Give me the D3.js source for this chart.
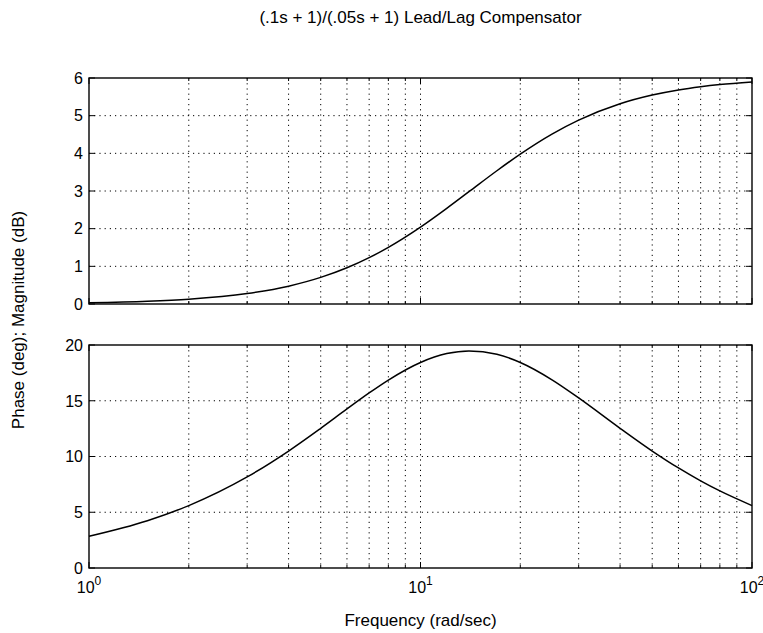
<!DOCTYPE html>
<html>
<head>
<meta charset="utf-8">
<script src="https://cdn.jsdelivr.net/npm/d3@7"></script>
<style>
  html, body { margin: 0; padding: 0; background: #fff; }
  svg { display: block; font-family: "Liberation Sans", Arial, Helvetica, sans-serif; }
</style>
</head>
<body>
<svg id="chart" width="763" height="633"></svg>
<script>
// ---- Data ----
const freq = [1, 1.5, 2, 3, 4, 5, 6, 7, 8, 10, 12, 14, 17, 20, 25, 30, 40, 50, 60, 70, 80, 100];
const magnitudeDb = [0.032, 0.072, 0.127, 0.278, 0.474, 0.706, 0.961, 1.230, 1.504, 2.041, 2.539, 2.981, 3.538, 3.979, 4.517, 4.881, 5.315, 5.546, 5.682, 5.767, 5.825, 5.894];
const phaseDeg = [2.849, 4.242, 5.599, 8.168, 10.491, 12.529, 14.265, 15.702, 16.859, 18.435, 19.230, 19.470, 19.169, 18.435, 16.859, 15.255, 12.529, 10.491, 8.973, 7.815, 6.911, 5.599];
const magTicks = [0, 1, 2, 3, 4, 5, 6];
const phaseTicks = [0, 5, 10, 15, 20];
const decadeTicks = [1, 10, 100];
const decadeExponents = ["0", "1", "2"];
const titleText = "(.1s + 1)/(.05s + 1) Lead/Lag Compensator";
const xLabelText = "Frequency (rad/sec)";
const yLabelText = "Phase (deg); Magnitude (dB)";

// ---- Layout ----
const svg = d3.select("#chart");
const left = 89, right = 752;
const fs = 16, labelFs = 17;
const panels = [
  { top: 78, bottom: 304, domain: [0, 6], ticks: magTicks, values: magnitudeDb, xLabels: false },
  { top: 345, bottom: 568, domain: [0, 20], ticks: phaseTicks, values: phaseDeg, xLabels: true }
];

const x = d3.scaleLog().domain([1, 100]).range([left, right]);
const minorTicks = [];
[1, 10].forEach(d => { for (let k = 2; k <= 9; k++) minorTicks.push(d * k); });
const gridX = minorTicks.concat([10]);

panels.forEach(p => {
  const y = d3.scaleLinear().domain(p.domain).range([p.bottom, p.top]);
  const g = svg.append("g");

  // Grid
  g.selectAll(".gx").data(gridX).enter().append("line")
    .attr("x1", d => x(d)).attr("x2", d => x(d))
    .attr("y1", p.top).attr("y2", p.bottom)
    .attr("stroke", "#000").attr("stroke-width", 1)
    .attr("stroke-dasharray", "1.2,4");
  g.selectAll(".gy").data(p.ticks.filter(t => t !== p.domain[0] && t !== p.domain[1])).enter().append("line")
    .attr("x1", left).attr("x2", right)
    .attr("y1", d => y(d)).attr("y2", d => y(d))
    .attr("stroke", "#000").attr("stroke-width", 1)
    .attr("stroke-dasharray", "1.2,4");

  // Inner ticks (MATLAB style)
  const tickLen = 6;
  g.selectAll(".ty").data(p.ticks).enter().append("path")
    .attr("d", d => `M${left},${y(d)}h${tickLen}M${right},${y(d)}h${-tickLen}`)
    .attr("stroke", "#000").attr("stroke-width", 1);
  g.selectAll(".tx").data(decadeTicks).enter().append("path")
    .attr("d", d => `M${x(d)},${p.bottom}v${-tickLen}M${x(d)},${p.top}v${tickLen}`)
    .attr("stroke", "#000").attr("stroke-width", 1);
  g.selectAll(".txm").data(minorTicks).enter().append("path")
    .attr("d", d => `M${x(d)},${p.bottom}v${-3}M${x(d)},${p.top}v${3}`)
    .attr("stroke", "#000").attr("stroke-width", 1);

  // Box
  g.append("rect")
    .attr("x", left).attr("y", p.top)
    .attr("width", right - left).attr("height", p.bottom - p.top)
    .attr("fill", "none").attr("stroke", "#000").attr("stroke-width", 1.4);

  // Y tick labels
  g.selectAll(".yl").data(p.ticks).enter().append("text")
    .attr("x", left - 6).attr("y", d => y(d))
    .attr("dy", "0.36em")
    .attr("text-anchor", "end")
    .attr("font-size", fs)
    .text(d => d);

  // Curve
  const line = d3.line()
    .x((d, i) => x(freq[i]))
    .y(d => y(d))
    .curve(d3.curveMonotoneX);
  g.append("path")
    .datum(p.values)
    .attr("d", line)
    .attr("fill", "none").attr("stroke", "#000").attr("stroke-width", 1.5);

  // X tick labels (bottom panel only)
  if (p.xLabels) {
    decadeTicks.forEach((d, i) => {
      const t = g.append("text")
        .attr("x", x(d)).attr("y", p.bottom + 25)
        .attr("text-anchor", "middle")
        .attr("font-size", fs);
      t.append("tspan").text("10");
      t.append("tspan").attr("dy", -8).attr("font-size", 12).text(decadeExponents[i]);
    });
  }
});

// Title
svg.append("text")
  .attr("x", (left + right) / 2).attr("y", 23)
  .attr("text-anchor", "middle")
  .attr("font-size", labelFs)
  .text(titleText);

// X label
svg.append("text")
  .attr("x", (left + right) / 2).attr("y", 626)
  .attr("text-anchor", "middle")
  .attr("font-size", labelFs)
  .text(xLabelText);

// Y label
svg.append("text")
  .attr("transform", `translate(24, 320) rotate(-90)`)
  .attr("text-anchor", "middle")
  .attr("font-size", labelFs)
  .text(yLabelText);
</script>
</body>
</html>
